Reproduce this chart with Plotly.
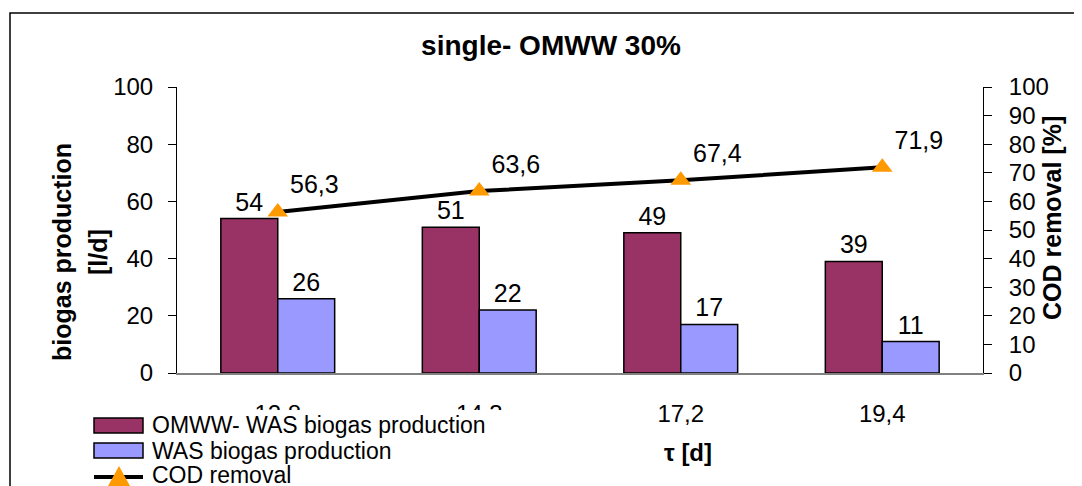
import plotly.graph_objects as go

# data
tau = ["12,8", "14,3", "17,2", "19,4"]
omww_was = [54, 51, 49, 39]
was = [26, 22, 17, 11]
cod_removal = [56.3, 63.6, 67.4, 71.9]
cod_labels = ["56,3", "63,6", "67,4", "71,9"]

names = ["OMWW- WAS biogas production", "WAS biogas production", "COD removal"]
bar_colors = ["#993366", "#9999FF"]
line_marker_color = "#FF9900"

font_family = "Liberation Sans, Arial, sans-serif"

fig = go.Figure()

fig.add_trace(go.Bar(
    x=tau, y=omww_was, name=names[0],
    marker=dict(color=bar_colors[0], line=dict(color="black", width=1.5)),
    text=[str(v) for v in omww_was], textposition="outside",
    textfont=dict(size=25, color="black"), cliponaxis=False,
))
fig.add_trace(go.Bar(
    x=tau, y=was, name=names[1],
    marker=dict(color=bar_colors[1], line=dict(color="black", width=1.5)),
    text=[str(v) for v in was], textposition="outside",
    textfont=dict(size=25, color="black"), cliponaxis=False,
))
fig.add_trace(go.Scatter(
    x=tau, y=cod_removal, name=names[2], yaxis="y2",
    mode="lines+markers+text",
    line=dict(color="black", width=4),
    marker=dict(symbol="triangle-up", size=18, color=line_marker_color),
    text=cod_labels, textposition="top right",
    textfont=dict(size=25, color="black"), cliponaxis=False,
))

# the page body adds an 8px margin, so work in page pixels and shift
OFF = 8
W, H = 1082 - OFF, 486 - OFF
PL, PR, PT, PB = 177, 983, 87, 373        # plot area in page pixels
L, T = PL - OFF, PT - OFF
R, B = W - (PR - OFF), H - (PB - OFF)
pw, ph = PR - PL, PB - PT


def px_x(x):
    return (x - PL) / pw


def px_y(y):
    return (PB - y) / ph


def rect(x0, y0, x1, y1, **kw):
    return dict(type="rect", xref="paper", yref="paper",
                x0=px_x(x0), x1=px_x(x1), y0=px_y(y1), y1=px_y(y0), **kw)


def label(text, x, y, size, angle=0, xanchor="center"):
    return dict(text=text, textangle=angle, x=px_x(x), y=px_y(y),
                xref="paper", yref="paper", xanchor=xanchor, yanchor="middle",
                showarrow=False, font=dict(size=size))


# hand-drawn legend (Excel style, wide swatches, tight rows)
leg_x0, leg_x1, txt_x = 94, 143, 150
row_y = [425, 451, 475]

tri = [(119, 466), (108, 486), (130, 486)]
tri_path = "M {} {} L {} {} L {} {} Z".format(
    *[v for p in tri for v in (px_x(p[0]), px_y(p[1]))])

shapes = [
    # outer chart border
    rect(10, 13, 1100, 510, line=dict(color="black", width=1.5), layer="below"),
    # legend background hides the upper part of the first tick labels
    rect(90, 410, 560, 510, fillcolor="white", line=dict(width=0), layer="above"),
    rect(leg_x0, 418, leg_x1, 433, fillcolor=bar_colors[0],
         line=dict(color="black", width=1.5), layer="above"),
    rect(leg_x0, 443, leg_x1, 458, fillcolor=bar_colors[1],
         line=dict(color="black", width=1.5), layer="above"),
    dict(type="line", xref="paper", yref="paper",
         x0=px_x(leg_x0), x1=px_x(leg_x1), y0=px_y(477), y1=px_y(477),
         line=dict(color="black", width=4), layer="above"),
    dict(type="path", xref="paper", yref="paper", path=tri_path,
         fillcolor=line_marker_color, line=dict(width=0), layer="above"),
]

annotations = [
    label("<b>biogas production</b>", 62, 252, 25, angle=-90),
    label("<b>[l/d]</b>", 98, 252, 25, angle=-90),
    label("<b>COD removal [%]</b>", 1052, 218, 25, angle=-90),
    label("<b>τ [d]</b>", 688, 452, 24),
]
for name, yy in zip(names, row_y):
    annotations.append(label(name, txt_x, yy, 23, xanchor="left"))

fig.update_layout(
    width=W, height=H,
    margin=dict(l=L, r=R, t=T, b=B, autoexpand=False),
    paper_bgcolor="white", plot_bgcolor="white",
    font=dict(family=font_family, color="black", size=24),
    barmode="group", bargap=0.435, bargroupgap=0,
    showlegend=False,
    title=dict(
        text="<b>single- OMWW 30%</b>", font=dict(size=28),
        x=(551 - OFF) / W, xanchor="center", xref="container",
        y=1 - (45 - OFF) / H, yanchor="middle", yref="container",
    ),
    xaxis=dict(
        showline=True, linecolor="#808080", linewidth=1.5,
        ticks="", ticklabelstandoff=18, tickfont=dict(size=24), showgrid=False,
    ),
    yaxis=dict(
        range=[0, 100], dtick=20, showline=True, linecolor="black", linewidth=1,
        ticks="outside", ticklen=8, tickcolor="black", showgrid=False,
        zeroline=False, tickfont=dict(size=24), ticklabelstandoff=10,
    ),
    yaxis2=dict(
        range=[0, 100], dtick=10, overlaying="y", side="right",
        showline=True, linecolor="black", linewidth=1,
        ticks="outside", ticklen=8, tickcolor="black", showgrid=False,
        zeroline=False, tickfont=dict(size=24), ticklabelstandoff=12,
    ),
    annotations=annotations,
    shapes=shapes,
)

fig.write_html("out.html")
